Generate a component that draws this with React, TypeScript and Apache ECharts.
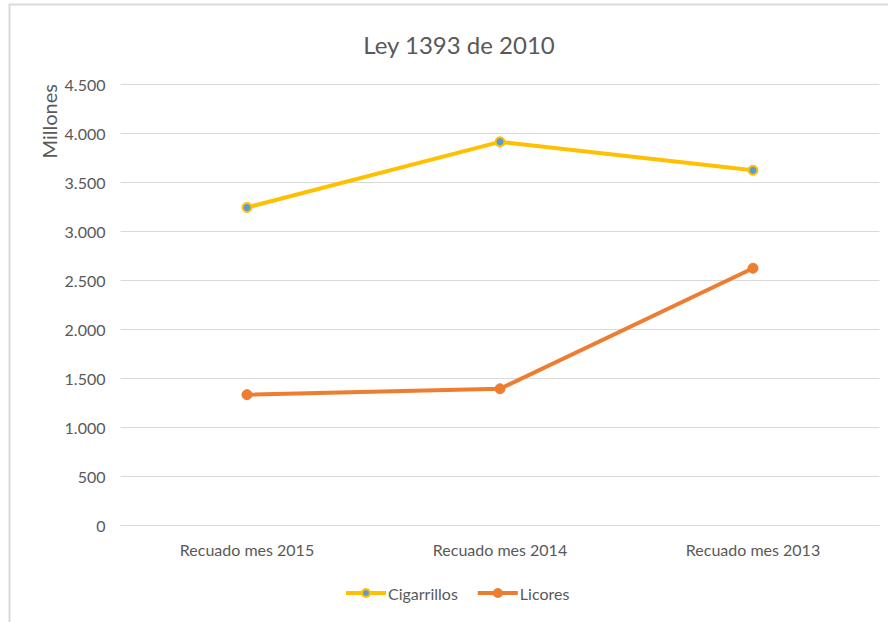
import React, { useEffect, useRef } from "react";
import * as echarts from "echarts";

const categories = ["Recuado mes 2015", "Recuado mes 2014", "Recuado mes 2013"];
const cigarrillos = [3240, 3910, 3620];
const licores = [1330, 1390, 2620];
const yTicks = { min: 0, max: 4500, interval: 500 };
const title = "Ley 1393 de 2010";
const yName = "Millones";

const FONT = "Lato, 'Open Sans', sans-serif";

function fmt(v: number) {
  return String(v).replace(/\B(?=(\d{3})+(?!\d))/g, ".");
}

export default function App() {
  const ref = useRef<HTMLDivElement>(null);
  useEffect(() => {
    document.body.style.margin = "0";
    const chart = echarts.init(ref.current!, null, { renderer: "svg" });
    chart.setOption({
      animation: false,
      backgroundColor: "#ffffff",
      graphic: [
        {
          type: "rect",
          shape: { x: 9.5, y: 4.5, width: 900, height: 700 },
          style: { fill: "none", stroke: "#d9d9d9", lineWidth: 2 },
          silent: true,
        },
      ],
      title: {
        text: title,
        left: 454,
        top: 27,
        textAlign: "center",
        textStyle: { fontFamily: FONT, fontSize: 24, fontWeight: "normal", color: "#595959" },
      },
      grid: { left: 120.5, right: 8.5, top: 84, bottom: 97 },
      legend: {
        bottom: 16,
        left: 339,
        itemWidth: 40,
        itemHeight: 10,
        itemGap: 18,
        lineStyle: { width: 4 },
        textStyle: { fontFamily: FONT, fontSize: 16, color: "#595959", padding: [0, 0, 0, -3] },
        data: ["Cigarrillos", "Licores"],
      },
      xAxis: {
        type: "category",
        data: categories,
        boundaryGap: true,
        axisLine: { show: true, lineStyle: { color: "#d9d9d9", width: 1 } },
        axisTick: { show: false },
        axisLabel: { fontFamily: FONT, fontSize: 16, color: "#595959", margin: 16 },
      },
      yAxis: {
        type: "value",
        min: yTicks.min,
        max: yTicks.max,
        interval: yTicks.interval,
        name: yName,
        nameLocation: "end",
        nameRotate: 90,
        nameGap: 0,
        nameTextStyle: {
          fontFamily: FONT,
          fontSize: 20,
          color: "#595959",
          align: "right",
          verticalAlign: "bottom",
          padding: [0, 0, 62, 0],
        },
        axisLine: { show: false },
        axisTick: { show: false },
        splitLine: { lineStyle: { color: "#d9d9d9", width: 1 } },
        axisLabel: { fontFamily: FONT, fontSize: 16, color: "#595959", margin: 15, formatter: (v: number) => fmt(v) },
      },
      series: [
        {
          name: "Cigarrillos",
          type: "line",
          data: cigarrillos,
          symbol: "circle",
          symbolSize: 9,
          lineStyle: { color: "#ffc000", width: 4 },
          itemStyle: { color: "#5b9bd5", borderColor: "#ffc000", borderWidth: 2 },
        },
        {
          name: "Licores",
          type: "line",
          data: licores,
          symbol: "circle",
          symbolSize: 10,
          lineStyle: { color: "#ed7d31", width: 4 },
          itemStyle: { color: "#ed7d31", borderColor: "#ed7d31", borderWidth: 1 },
        },
      ],
    });
    return () => chart.dispose();
  }, []);
  return (
    <div
      ref={ref}
      style={{ position: "absolute", left: 0, top: 0, width: 888, height: 622 }}
    />
  );
}
